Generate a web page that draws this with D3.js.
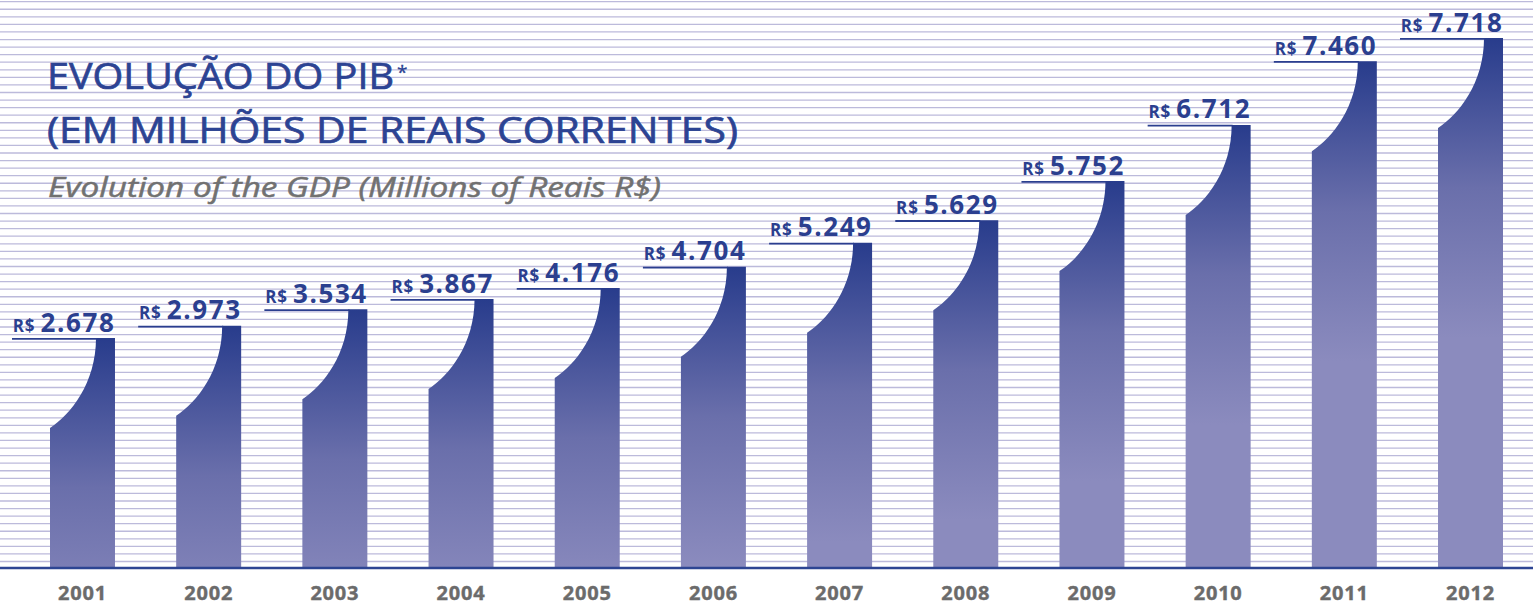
<!DOCTYPE html>
<html><head><meta charset="utf-8">
<script src="https://cdn.jsdelivr.net/npm/d3@7"></script>
<style>
html,body{margin:0;padding:0;background:#fff;}
svg{display:block;}
</style></head>
<body>
<script>
// ---- data ----
const years = ["2001","2002","2003","2004","2005","2006","2007","2008","2009","2010","2011","2012"];
// GDP, millions of reais (labels)
const gdpValues = [2678, 2973, 3534, 3867, 4176, 4704, 5249, 5629, 5752, 6712, 7460, 7718];
// The original bars are decorative and not drawn to scale: their drawn heights,
// read off the picture and expressed in the same units as the value axis.
const drawnLevels = [3340, 3520, 3760, 3910, 4070, 4380, 4730, 5060, 5630, 6450, 7380, 7718];
const titleLines = ["EVOLUÇÃO DO PIB", "(EM MILHÕES DE REAIS CORRENTES)"];
const subtitle = "Evolution of the GDP (Millions of Reais R$)";
const currency = "R$";

// ---- setup ----
const W = 1533, H = 606;
const baseY = 567, topY = 38;
const font = "'Open Sans', 'Noto Sans', sans-serif";
const dark = "#2b3f8f";

const svg = d3.select("body").append("svg").attr("width", W).attr("height", H);

const x = d3.scaleBand().domain(years).range([50, 1503]).paddingInner(0.485).paddingOuter(0).align(0);
const y = d3.scaleLinear().domain([0, d3.max(drawnLevels)]).range([baseY, topY]);

const ptBR = d3.formatLocale({decimal: ",", thousands: ".", grouping: [3], currency: ["R$ ", ""]});
const fmt = ptBR.format(",d");

// background ruled lines (decorative)
svg.append("g").selectAll("line").data(d3.range(75)).join("line")
  .attr("x1", 0).attr("x2", W)
  .attr("y1", i => 1.7 + i * 7.565).attr("y2", i => 1.7 + i * 7.565)
  .attr("stroke", "#bcbadb").attr("stroke-width", 1.3);

// gradients per bar
const defs = svg.append("defs");
const grads = defs.selectAll("linearGradient").data(years).join("linearGradient")
  .attr("id", (d, i) => "g" + i)
  .attr("gradientUnits", "userSpaceOnUse")
  .attr("x1", 0).attr("x2", 0)
  .attr("y1", (d, i) => y(drawnLevels[i]))
  .attr("y2", (d, i) => y(drawnLevels[i]) + 300);
grads.append("stop").attr("offset", 0).attr("stop-color", "#283c8c");
grads.append("stop").attr("offset", 0.5).attr("stop-color", "#6a6fab");
grads.append("stop").attr("offset", 1).attr("stop-color", "#8b8bbe");

// bars with curved shoulder
const curveH = 90, curveW = 46;
function barPath(d, i) {
  const x0 = x(d), x1 = x0 + x.bandwidth();
  const t = y(drawnLevels[i]);
  const yb = t + curveH;
  const xc = x0 + curveW;
  return `M${x0},${baseY} L${x0},${yb} C${x0 + 0.45 * curveW},${yb - 0.15 * curveH} ${xc},${yb - 0.5 * curveH} ${xc},${t} L${x1},${t} L${x1},${baseY} Z`;
}
svg.append("g").selectAll("path").data(years).join("path")
  .attr("d", barPath)
  .attr("fill", (d, i) => `url(#g${i})`);

// underline leader lines
svg.append("g").selectAll("line").data(years).join("line")
  .attr("x1", d => x(d) - 38).attr("x2", d => x(d) + curveW + 1)
  .attr("y1", (d, i) => y(drawnLevels[i]) + 0.8).attr("y2", (d, i) => y(drawnLevels[i]) + 0.8)
  .attr("stroke", dark).attr("stroke-width", 1.8);

// value labels
const lbl = svg.append("g").selectAll("text").data(years).join("text")
  .attr("x", d => x(d) + x.bandwidth() + 0.5)
  .attr("y", (d, i) => y(drawnLevels[i]) - 6.5)
  .attr("text-anchor", "end")
  .attr("fill", dark)
  .attr("font-family", font).attr("font-weight", 700);
lbl.append("tspan").attr("font-size", 17).attr("letter-spacing", 0.8).text(currency + "\u00a0");
lbl.append("tspan").attr("font-size", 26).attr("letter-spacing", 1.6).text((d, i) => fmt(gdpValues[i]));

// axis baseline
svg.append("line").attr("x1", 0).attr("x2", W).attr("y1", baseY + 1).attr("y2", baseY + 1)
  .attr("stroke", "#2d4593").attr("stroke-width", 2.6);

// year labels
svg.append("g").selectAll("text").data(years).join("text")
  .attr("x", d => x(d) + x.bandwidth() / 2)
  .attr("y", 600)
  .attr("text-anchor", "middle")
  .attr("fill", "#6b6b6b")
  .attr("font-family", font).attr("font-weight", 700).attr("font-size", 20)
  .attr("letter-spacing", 0.8)
  .attr("stroke", "#6b6b6b").attr("stroke-width", 0.4)
  .text(d => d);

// titles
const title = svg.append("g").attr("font-family", font).attr("fill", "#2c4393")
  .attr("stroke", "#2c4393").attr("stroke-width", 0.7);
title.append("text").attr("x", 47).attr("y", 89).attr("font-size", 36)
  .attr("textLength", 347).attr("lengthAdjust", "spacingAndGlyphs").text(titleLines[0]);
title.append("text").attr("x", 397).attr("y", 79).attr("font-size", 19).attr("stroke-width", 0.3).text("*");
title.append("text").attr("x", 47).attr("y", 143).attr("font-size", 36)
  .attr("textLength", 691).attr("lengthAdjust", "spacingAndGlyphs").text(titleLines[1]);
svg.append("text").attr("x", 48).attr("y", 197).attr("font-family", font)
  .attr("font-style", "italic").attr("font-size", 27).attr("fill", "#717171")
  .attr("stroke", "#717171").attr("stroke-width", 0.5)
  .attr("textLength", 613).attr("lengthAdjust", "spacingAndGlyphs").text(subtitle);
</script>
</body></html>
